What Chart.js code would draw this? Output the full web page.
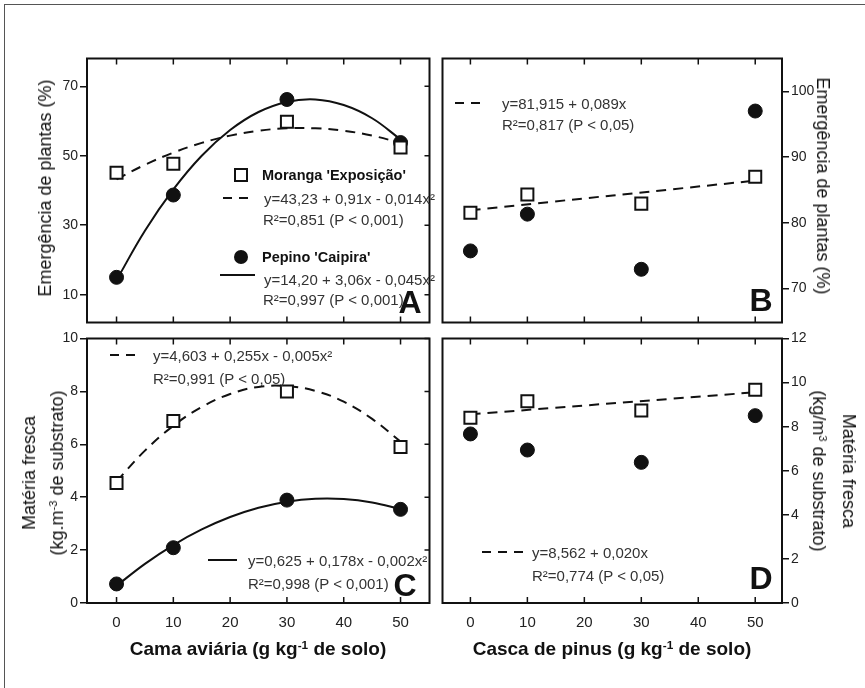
<!DOCTYPE html>
<html>
<head>
<meta charset="utf-8">
<script src="https://cdn.jsdelivr.net/npm/chart.js@4"></script>
<style>
body { margin: 0; background: #fff; }
#fig { position: relative; width: 865px; height: 688px; overflow: hidden; background: #fff;
       font-family: "Liberation Sans", Arial, sans-serif; color: #222; }
#frame { position: absolute; left: 4px; top: 4px; right: -10px; bottom: -10px;
         border-left: 1.5px solid #555; border-top: 1.5px solid #555; }
canvas { position: absolute; }
.t { position: absolute; white-space: nowrap; line-height: 1; font-size: 15px; color: #333; transform: translateY(-50%); }
.b { font-weight: bold; font-size: 14.5px; color: #111; }
.let { position: absolute; font-weight: bold; font-size: 32px; line-height: 1; color: #111; transform: translate(-50%, -50%); }
.ytl, .ytr { position: absolute; white-space: nowrap; text-align: center; font-size: 18px; line-height: 28px; color: #111; }
.ytl { transform: translate(-50%, -50%) rotate(-90deg); }
.ytr { transform: translate(-50%, -50%) rotate(90deg); }
.xt { position: absolute; white-space: nowrap; font-weight: bold; font-size: 19px; line-height: 1; color: #111; transform: translate(-50%, -50%); }
sup { font-size: 0.62em; vertical-align: baseline; position: relative; top: -0.5em; line-height: 0; }
.sq { position: absolute; width: 10px; height: 10px; border: 2px solid #111; transform: translate(-50%, -50%); }
.ci { position: absolute; width: 14px; height: 14px; border-radius: 50%; background: #111; transform: translate(-50%, -50%); }
.ln { position: absolute; height: 2px; background: #111; }
.ds { position: absolute; height: 2px; background: repeating-linear-gradient(90deg, #111 0 9px, transparent 9px 16px); }
</style>
</head>
<body>
<div id="fig">
  <div id="frame"></div>
  <canvas id="chartA" width="413" height="285" style="left:27px;top:48px"></canvas>
  <canvas id="chartB" width="410" height="285" style="left:432px;top:48px"></canvas>
  <canvas id="chartC" width="413" height="305" style="left:27px;top:328px"></canvas>
  <canvas id="chartD" width="410" height="305" style="left:432px;top:328px"></canvas>

  <!-- legenda painel A -->
  <div class="sq" style="left:241px;top:175px"></div>
  <div class="t b" style="left:262px;top:175px">Moranga 'Exposição'</div>
  <div class="ds" style="left:223px;top:197px;width:29px"></div>
  <div class="t" style="left:264px;top:198px">y=43,23 + 0,91x - 0,014x²</div>
  <div class="t" style="left:263px;top:219px">R²=0,851 (P &lt; 0,001)</div>
  <div class="ci" style="left:241px;top:257px"></div>
  <div class="t b" style="left:262px;top:257px">Pepino 'Caipira'</div>
  <div class="ln" style="left:220px;top:274px;width:35px"></div>
  <div class="t" style="left:264px;top:279px">y=14,20 + 3,06x - 0,045x²</div>
  <div class="t" style="left:263px;top:299px">R²=0,997 (P &lt; 0,001)</div>
  <div class="let" style="left:410px;top:302px">A</div>

  <!-- painel B -->
  <div class="ds" style="left:455px;top:102px;width:26px"></div>
  <div class="t" style="left:502px;top:103px">y=81,915 + 0,089x</div>
  <div class="t" style="left:502px;top:124px">R²=0,817 (P &lt; 0,05)</div>
  <div class="let" style="left:761px;top:300px">B</div>

  <!-- painel C -->
  <div class="ds" style="left:110px;top:354px;width:25px"></div>
  <div class="t" style="left:153px;top:355px">y=4,603 + 0,255x - 0,005x²</div>
  <div class="t" style="left:153px;top:378px">R²=0,991 (P &lt; 0,05)</div>
  <div class="ln" style="left:208px;top:559px;width:29px"></div>
  <div class="t" style="left:248px;top:560px">y=0,625 + 0,178x - 0,002x²</div>
  <div class="t" style="left:248px;top:583px">R²=0,998 (P &lt; 0,001)</div>
  <div class="let" style="left:405px;top:585px">C</div>

  <!-- painel D -->
  <div class="ds" style="left:482px;top:551px;width:41px"></div>
  <div class="t" style="left:532px;top:552px">y=8,562 + 0,020x</div>
  <div class="t" style="left:532px;top:575px">R²=0,774 (P &lt; 0,05)</div>
  <div class="let" style="left:761px;top:578px">D</div>

  <!-- titulos dos eixos -->
  <div class="ytl" style="left:45px;top:188px">Emergência de plantas (%)</div>
  <div class="ytr" style="left:823px;top:186px">Emergência de plantas (%)</div>
  <div class="ytl" style="left:43px;top:473px">Matéria fresca<br>(kg.m<sup>-3</sup> de substrato)</div>
  <div class="ytr" style="left:834px;top:471px;line-height:30px">Matéria fresca<br>(kg/m<sup>3</sup> de substrato)</div>
  <div class="xt" style="left:258px;top:648px">Cama aviária (g kg<sup>-1</sup> de solo)</div>
  <div class="xt" style="left:612px;top:648px">Casca de pinus (g kg<sup>-1</sup> de solo)</div>
</div>

<script>
"use strict";

/* doses (g/kg) */
const doses = [0, 10, 30, 50];
const fitX = [0, 5, 10, 15, 20, 25, 30, 35, 40, 45, 50];
const linX = [0, 50];

/* A - emergência, cama aviária */
const emergMorangaCama = [45.1, 47.7, 59.8, 52.4];
const emergPepinoCama = [15.0, 38.7, 66.2, 53.8];
const fitEmergMorangaCama = [43.2, 47.4, 50.9, 53.7, 55.8, 57.2, 57.9, 57.9, 57.2, 55.8, 53.7];
const fitEmergPepinoCama = [14.2, 28.4, 40.3, 50.0, 57.4, 62.6, 65.5, 66.2, 64.6, 60.8, 54.7];

/* B - emergência, casca de pinus */
const emergMorangaPinus = [81.5, 84.3, 82.9, 87.0];
const emergPepinoPinus = [75.7, 81.3, 72.9, 97.0];
const fitEmergMorangaPinus = [81.9, 86.4];

/* C - matéria fresca, cama aviária */
const massaMorangaCama = [4.54, 6.88, 8.0, 5.9];
const massaPepinoCama = [0.72, 2.09, 3.89, 3.54];
const fitMassaMorangaCama = [4.60, 5.76, 6.70, 7.41, 7.90, 8.17, 8.20, 8.02, 7.61, 6.96, 6.10];
const fitMassaPepinoCama = [0.65, 1.48, 2.19, 2.78, 3.25, 3.60, 3.83, 3.94, 3.93, 3.80, 3.55];

/* D - matéria fresca, casca de pinus */
const massaMorangaPinus = [8.40, 9.15, 8.73, 9.67];
const massaPepinoPinus = [7.67, 6.94, 6.38, 8.50];
const fitMassaMorangaPinus = [8.56, 9.56];

/* ticks */
const xTicks = [0, 10, 20, 30, 40, 50];
const yTicksA = [10, 30, 50, 70];
const yTicksB = [70, 80, 90, 100];
const yTicksC = [0, 2, 4, 6, 8, 10];
const yTicksD = [0, 2, 4, 6, 8, 10, 12];

Chart.defaults.font.family = "'Liberation Sans', Arial, sans-serif";
Chart.defaults.color = "#222";

const pts = (xs, ys) => xs.map((x, i) => ({ x: x, y: ys[i] }));

// caixa do gráfico + ticks internos
const framePlugin = {
    id: "frame",
    afterDatasetsDraw(chart, args, opts) {
        const ctx = chart.ctx;
        const a = chart.chartArea;
        const xs = chart.scales.x;
        const ys = chart.scales.y;
        ctx.save();
        ctx.strokeStyle = "#111";
        ctx.lineWidth = 1.5;
        ctx.beginPath();
        xTicks.forEach(v => {
            const px = xs.getPixelForValue(v);
            ctx.moveTo(px, a.top);
            ctx.lineTo(px, a.top + 6);
            ctx.moveTo(px, a.bottom);
            ctx.lineTo(px, a.bottom - 6);
        });
        if (opts.inner) {
            const edge = opts.inner === "right" ? a.right : a.left;
            const dir = opts.inner === "right" ? -1 : 1;
            opts.yTicks.forEach(v => {
                const py = ys.getPixelForValue(v);
                ctx.moveTo(edge, py);
                ctx.lineTo(edge + dir * 5, py);
            });
        }
        ctx.stroke();
        ctx.lineWidth = 2;
        ctx.strokeRect(a.left, a.top, a.right - a.left, a.bottom - a.top);
        ctx.restore();
    }
};

function squares(data) {
    return { data: data, pointStyle: "rect", pointRadius: 8.5, pointBorderWidth: 2,
             pointBorderColor: "#111", pointBackgroundColor: "#fff", showLine: false, order: 0 };
}
function circles(data) {
    return { data: data, pointStyle: "circle", pointRadius: 7, pointBorderWidth: 1,
             pointBorderColor: "#111", pointBackgroundColor: "#111", showLine: false, order: 0 };
}
function curve(data, dashed) {
    return { data: data, showLine: true, borderColor: "#111", borderWidth: 2,
             borderDash: dashed ? [10, 7] : [], pointRadius: 0, tension: 0.4, order: 1 };
}

function makePanel(id, cfg) {
    new Chart(document.getElementById(id), {
        type: "scatter",
        data: { datasets: cfg.datasets },
        options: {
            responsive: false,
            animation: false,
            devicePixelRatio: 1,
            layout: { padding: cfg.padding },
            plugins: { legend: { display: false }, tooltip: { enabled: false },
                       frame: { inner: cfg.inner, yTicks: cfg.yTicks } },
            scales: {
                x: {
                    type: "linear", min: cfg.xMin, max: cfg.xMax,
                    afterBuildTicks: s => { s.ticks = xTicks.map(v => ({ value: v })); },
                    afterFit: s => { s.height = cfg.xLabels ? 30 : 10; },
                    grid: { display: false },
                    border: { display: false },
                    ticks: { display: cfg.xLabels, padding: 3, font: { size: 15 }, color: "#222" }
                },
                y: {
                    type: "linear", position: cfg.yPos, min: cfg.yMin, max: cfg.yMax,
                    afterBuildTicks: s => { s.ticks = cfg.yTicks.map(v => ({ value: v })); },
                    afterFit: s => { s.width = 60; },
                    grid: { drawOnChartArea: false, drawTicks: true, tickLength: 7, lineWidth: 1.5, color: "#111" },
                    border: { display: false },
                    ticks: { padding: 2, font: { size: 14 }, color: "#222" }
                }
            }
        },
        plugins: [framePlugin]
    });
}

makePanel("chartA", {
    xMin: -5.2, xMax: 55.1, yMin: 2, yMax: 78, yTicks: yTicksA, yPos: "left", xLabels: false,
    inner: "right", padding: { top: 10, right: 10, left: 0, bottom: 0 },
    datasets: [
        squares(pts(doses, emergMorangaCama)),
        circles(pts(doses, emergPepinoCama)),
        curve(pts(fitX, fitEmergMorangaCama), true),
        curve(pts(fitX, fitEmergPepinoCama), false)
    ]
});

makePanel("chartB", {
    xMin: -4.9, xMax: 54.7, yMin: 64.8, yMax: 105, yTicks: yTicksB, yPos: "right", xLabels: false,
    inner: null, padding: { top: 10, left: 10, right: 0, bottom: 0 },
    datasets: [
        squares(pts(doses, emergMorangaPinus)),
        circles(pts(doses, emergPepinoPinus)),
        curve(pts(linX, fitEmergMorangaPinus), true)
    ]
});

makePanel("chartC", {
    xMin: -5.2, xMax: 55.1, yMin: 0, yMax: 10, yTicks: yTicksC, yPos: "left", xLabels: true,
    inner: "right", padding: { top: 10, right: 10, left: 0, bottom: 0 },
    datasets: [
        squares(pts(doses, massaMorangaCama)),
        circles(pts(doses, massaPepinoCama)),
        curve(pts(fitX, fitMassaMorangaCama), true),
        curve(pts(fitX, fitMassaPepinoCama), false)
    ]
});

makePanel("chartD", {
    xMin: -4.9, xMax: 54.7, yMin: 0, yMax: 12, yTicks: yTicksD, yPos: "right", xLabels: true,
    inner: null, padding: { top: 10, left: 10, right: 0, bottom: 0 },
    datasets: [
        squares(pts(doses, massaMorangaPinus)),
        circles(pts(doses, massaPepinoPinus)),
        curve(pts(linX, fitMassaMorangaPinus), true)
    ]
});
</script>
</body>
</html>
